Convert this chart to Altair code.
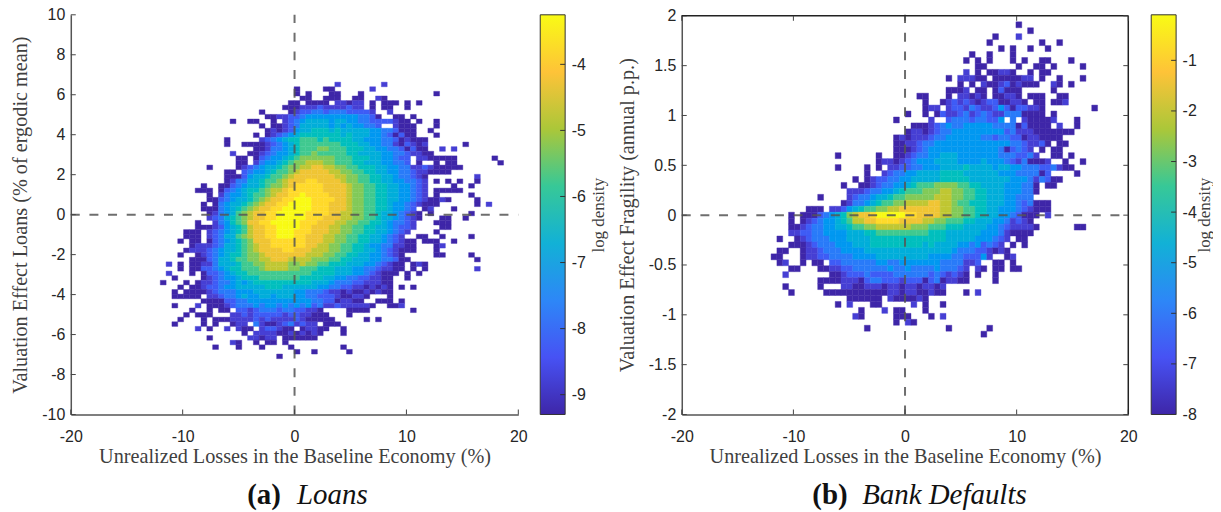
import altair as alt
import pandas as pd

# density grids, one string per row, top to bottom.
# '.' = empty bin; 0-9,a,b,c = colour step from the bottom to the top of the colour bar
LOANS_START = [30,23,23,24,22,21,17,18,12,17,18,16,11,11,16,12,13,13,8,11,11,11,7,6,8,8,7,7,8,8,
               6,6,4,4,3,5,4,3,5,1,3,1,2,0,3,2,2,7,2,5,4,3,2,6,14,8,12,9,23,20]
LOANS_ROWS = [
"1.......1",
"0....00......1",
"0.0...00...0............0",
"00..000..00..10",
"00.0000.11011.0.000.0.0",
"00011121111211.0.00..0",
"0....012233233322221..1",
"0011223444444444332" "0..00.0",
"0..00..0.123" "4555545544332" "2221" "00" ".0..0",
"0.00123" "55555454544332" "..1000...0",
"01012" "455666565555544332000" "..0",
"0.0123" "4566666665655544320200" "...0",
"0.....1234566" "7776766665544433201000",
"0..00" "00123456" "7777777666554433102101" "......0",
"00133456" "7778877766655443320200" "..1.1",
"1..0" "01234456" "77877777665555443321100",
"00.0" "2344567" "8888887776665544322" ".110" "0000" "......0",
"00." "13445678" "8999887776655544332" ".0..0.00.......0",
"0....0" "123455678" "899aa998877666554433112100000",
"00." "234456778" "9aaaaa998877665544332110000",
"000" "245567789" "aaaaaaa9988776655433210" "........1",
"0" "1335567789" "aaabbaaaa988776655443321" ".0.0.0..0",
"0..00" "2345567889" "abbbbbaaaa98877665544321" "....0..0",
"000." "02345667899a" "bbbbbbaaaa98877665544321" ".00000",
"0." "134456778" "9aa" "bbcbbbbaaa98877665544321" ".0.....0",
"00" "234556789aab" "bcccbbbbaa98877665544321" "0010" "....0",
"0.0" "345567" "89aabb" "ccccbbbaaa98877665" "44321" "000" "......0.1",
"000" "345678" "9aabbc" "ccccbbbaaa988776654432" ".01...0",
"01" "345789" "aabbcc" "cccbbbbaa99887765543210" ".0......0",
"12" "356789" "aabbcc" "cccbbbaaa9988776554321" "0...00..0",
"0.." "134678" "aabbccc" "ccbbbaaa99887766543321" "..." "000",
"000" "124567" "9aabbcc" "ccbbaaa998877665543221" "....00",
"000." "123456" "79aabbcc" "cbbbaaa99887766554321" "....0",
"000." "123557" "89aabbcc" "cbbaaa9988776655432" "1" "..00..0....0",
"0.00." "023456" "78aaabbb" "bbbaaa998877665543" "21" "00.000..0",
"01" "1123556" "789aabbb" "bbbaa9988776654433" "1100" "...01",
"01" "1123455" "6789" "aaaab" "baaa9998877665543" "21000" "...0",
"0.." "012345" "66788" "9aaaa" "aaa99988776655443" "210" ".....00....0",
"000" "235567" "78899" "aaa9" "999888776655544332" "00" "..........." "0",
"1.0." "00113" "555677" "889999" "889887766655544321" "00.010",
"0." "002234" "566777" "89999" "8877766655544332" "1100.0.0........1",
"1...0." "022345" "66777" "7777" "7777666655544321" "000.0.0",
"0...." "012344" "56667" "7777" "7766665544332211" "00..0",
"0...0." "011233" "45456" "66666" "66665554333221110" "0",
"0." "001223" "445555" "56665" "55555443322110101" "0.0.0",
"0.000" "01233" "34445" "55555" "54433321101001010" "0",
"00000." "112334" "54455" "4555" "44332221001" "10...0",
"0000" "2233" "44444" "4444" "4433220110" "0..000.0",
"0...1.000" "12333" "4344" "34343" "423112111" "110..001",
"0..0.00." "22123" "33233" "22110" "....0000.......0",
"0.000..." "11212" "22221" "221100" "0...0",
"0...0.000" "11112" "12111" "12100000" ".....0.0",
"0....0.0." ".011.3" "10012" "312" "11.000",
"1.0..1.100." "122100" ".01100..0",
"0." "111100" "1" "01010" "...0",
"0......1101" "1.000000",
"10..0.00.0",
"0...0...0....0........0",
"0..0.....0",
"0",
]

FRAG_START = [42,44,38,37,39,34,33,35,33,30,32,30,25,26,26,23,21,24,23,21,21,21,11,18,11,16,14,12,13,8,
              12,6,3,3,3,3,1,3,1,0,1,3,2,8,2,3,13,11,15,14,21,16,36]
FRAG_ROWS = [
"0",
"0",
"0...1",
"0........0..0",
"0.0..0..0",
"0..0...0",
"0.0.0...0.0..00...0",
"00.....0..00.0....0",
"1.0.00110..0.00",
"0.11100.0000011.0..0...0",
"0.0.1" "00120" "1000" ".." "10" "." "0",
"0001.00." "0200" "0" "....." "0",
"00...0.11010." "00110" "." "000" ".." "00",
"0..0" "12121012200110" ".00." "001",
"011." "12213211242022110" "........0",
"0..0.0211231232113330000.0",
"0.....1.." "2333233224" ".3.1" "0000" "1...0",
"000123433" "444443333" "0200" "00.1..0",
"011012334" "44444444" "2311100000" "00",
"010111233" "4444443323" "3220" "110000",
"0011233444" "4444444444" "33211" "20.00",
"000123444" "4444444443" "0232" "1.0.00",
"0......0.." "001233445" "5544444443" "3322" "31..00.0",
"011012344" "4555544" "445444321" "30001..0..0",
"0....0.0.1" "12233444" "555565555" "4554433" "32231" "00",
"0..1233445" "5556666" "555555" "4443333" "02....0",
"0.0" "12233445" "55556666" "65555555" "44431320" "0",
"0..00" "12334456777888877665555444330" ".00",
"111233445677788899887766555444330",
"0...." "12334556778888899988776655544333",
"0" "1334567788" "9999aa998776" "6655544323000",
"000." "112456778899aaaaaaa99887766554443" "21000",
"0.0" "00" "23" "45689aab" "ccccc" "bbaaaa99887766554432000" ".1",
"0.0" "12344567" "99aabbbb" "aaaa9988777665554" "4312" "10",
"001" "23344556" "77889999" "99888777666555544321111" "0" "......00",
"1122" "334444555667777" "7777766655555544431000" "0",
"0..0" "12333444" "555566666666" "6666655" "55544432" "1.00",
"00" "0123334445556666" "6666656555" "5443423" "21.0.0",
"00.." "011233344" "44555555" "555555555" "4333221" "010",
"00..." "0112233" "33444455" "55555554" "44433222" "41..01",
"01..0.00." "22333" "33344" "3344444" "4433331" "12..00.0",
"00...00" "11223" "33333" "4334" "33334333" "21.10.00.00",
"1......." "00122" "23222" "233333" "3" "2321210.0..0",
"0000" "11102" "33222" "1222" "02301100" "....0",
"0.....0..." "1100111" "011011" "0110" "1",
"0....." "000000000" "001101100" "100...0.1",
"000000.1000010",
"0.1...00.....1.0..0",
"0...1.00...0",
"10.....000...0.1",
"0.10",
"0.............0......0",
"0",
]

LOANS_RANGE = [-9.3, -3.25]
FRAG_RANGE = [-8.0, -0.1]
LOANS_TICKS = [-9, -8, -7, -6, -5, -4]
FRAG_TICKS = [-8, -7, -6, -5, -4, -3, -2, -1]
PARULA = ["#3e26a8", "#4752f4", "#2d87f7", "#12b1d6", "#37c897", "#abc739", "#fec338", "#f9fb15"]
X_TICKS = [-20, -10, 0, 10, 20]
Y_TICKS_A = [-10, -8, -6, -4, -2, 0, 2, 4, 6, 8, 10]
Y_TICKS_B = [-2, -1.5, -1, -0.5, 0, 0.5, 1, 1.5, 2]

SANS = "Liberation Sans"
SERIF = "Liberation Serif"
INK = "#262626"
STEPS = "0123456789abc"


def cells(starts, rows, x0, dx, ytop, dy, rng):
    out = []
    for r, (st, s) in enumerate(zip(starts, rows)):
        for i, ch in enumerate(s):
            if ch in STEPS:
                c = st + i
                out.append(dict(x0=x0 + dx * c, x1=x0 + dx * (c + 1),
                                y1=ytop - dy * r, y0=ytop - dy * (r + 1),
                                v=rng[0] + (rng[1] - rng[0]) * STEPS.index(ch) / 12))
    return pd.DataFrame(out)


def one():
    return pd.DataFrame({"a": [0]})


def panel(df, rng, ydom, yticks, ylabel, tpad, cap1, cap2, cap1x, cap2x, frame, W, H):
    xs = alt.Scale(domain=[-20, 20], nice=False)
    ys = alt.Scale(domain=ydom, nice=False)
    cs = alt.Scale(domain=[rng[0] + (rng[1] - rng[0]) * i / 7 for i in range(8)], range=PARULA)
    heat = alt.Chart(df).mark_rect(strokeWidth=0.4).encode(
        x=alt.X("x0:Q", scale=xs, axis=alt.Axis(
            values=X_TICKS, format="d", grid=False, tickSize=0, domain=True, domainColor="#555555", domainWidth=1.5,
            labelFont=SANS, labelFontSize=16, labelColor=INK, labelPadding=14, labelFlush=False,
            labelExpr="replace(format(datum.value, 'd'), '−', '-')",
            title="Unrealized Losses in the Baseline Economy (%)", titleFont=SERIF, titleFontSize=20.3,
            titleFontWeight="normal", titleColor="#404040", titlePadding=2)),
        x2="x1:Q",
        y=alt.Y("y0:Q", scale=ys, axis=alt.Axis(
            values=yticks, grid=False, tickSize=0, domain=True, domainColor="#555555", domainWidth=1.5,
            labelFont=SANS, labelFontSize=16, labelColor=INK, labelPadding=6,
            labelExpr="replace(format(datum.value, '~g'), '−', '-')",
            title=ylabel, titleFont=SERIF, titleFontSize=20.3, titleFontWeight="normal",
            titleColor="#404040", titlePadding=tpad)),
        y2="y1:Q",
        color=alt.Color("v:Q", scale=cs, legend=None),
        stroke=alt.Color("v:Q", scale=cs, legend=None),
    )
    mid = pd.DataFrame({"x": [0], "y": [0]})
    dash = dict(strokeDash=[9, 9.7], strokeWidth=2, color="#555555", opacity=0.85)
    vline = alt.Chart(mid).mark_rule(**dash).encode(x=alt.X("x:Q", scale=xs, axis=None), y=alt.value(H - 0), y2=alt.value(0))
    hline = alt.Chart(mid).mark_rule(**dash).encode(y=alt.Y("y:Q", scale=ys, axis=None), x=alt.value(0), x2=alt.value(W))
    tk = dict(color="#444444", strokeWidth=1)
    xt = pd.DataFrame({"t": X_TICKS})
    yt = pd.DataFrame({"t": yticks})
    layers = [heat, vline, hline,
              alt.Chart(xt).mark_rule(**tk).encode(x=alt.X("t:Q", scale=xs, axis=None), y=alt.value(H), y2=alt.value(H - 5)),
              alt.Chart(yt).mark_rule(**tk).encode(y=alt.Y("t:Q", scale=ys, axis=None), x=alt.value(0), x2=alt.value(5))]
    if frame:
        top = H - 400
        f = dict(color="#222222", strokeWidth=1.5)
        layers += [
            alt.Chart(mid).mark_rule(**f).encode(y=alt.value(top), x=alt.value(0), x2=alt.value(W)),
            alt.Chart(mid).mark_rule(**f).encode(x=alt.value(W), y=alt.value(top), y2=alt.value(H)),
            alt.Chart(xt).mark_rule(**tk).encode(x=alt.X("t:Q", scale=xs, axis=None), y=alt.value(top), y2=alt.value(top + 5)),
            alt.Chart(yt).mark_rule(**tk).encode(y=alt.Y("t:Q", scale=ys, axis=None), x=alt.value(W - 5), x2=alt.value(W)),
        ]
    layers += [
        alt.Chart(pd.DataFrame({"t": [cap1]})).mark_text(font=SERIF, fontSize=29, fontWeight="bold", align="left", baseline="alphabetic", color="#111111")
        .encode(text="t:N", x=alt.value(cap1x), y=alt.value(491)),
        alt.Chart(pd.DataFrame({"t": [cap2]})).mark_text(font=SERIF, fontSize=29, fontStyle="italic", align="left", baseline="alphabetic", color="#111111")
        .encode(text="t:N", x=alt.value(cap2x), y=alt.value(491)),
    ]
    return alt.layer(*layers).resolve_axis(x="independent", y="independent").properties(width=W, height=H)


def colorbar(rng, ticks, H, tpad):
    ys = alt.Scale(domain=rng, nice=False)
    grad = alt.Gradient(gradient="linear", x1=0, x2=0, y1=1, y2=0,
                        stops=[alt.GradientStop(color=c, offset=i / 7) for i, c in enumerate(PARULA)])
    bar = alt.Chart(pd.DataFrame({"lo": [rng[0]], "hi": [rng[1]]})).mark_rect(
        fill=grad, stroke="#333333", strokeWidth=1).encode(
        y=alt.Y("lo:Q", scale=ys, axis=alt.Axis(
            orient="right", values=ticks, grid=False, tickSize=0, domain=False, labelFont=SANS, labelFontSize=16,
            labelColor=INK, labelPadding=6, labelExpr="replace(format(datum.value, 'd'), '−', '-')",
            title="log density", titleFont=SERIF, titleFontSize=17, titleFontWeight="normal",
            titleColor="#404040", titleAngle=270, titlePadding=tpad)),
        y2="hi:Q", x=alt.value(0), x2=alt.value(25))
    tk = alt.Chart(pd.DataFrame({"t": ticks})).mark_rule(color="#333333", strokeWidth=1).encode(
        y=alt.Y("t:Q", scale=ys, axis=None), x=alt.value(20), x2=alt.value(25))
    return alt.layer(bar, tk).resolve_axis(y="independent").properties(width=25, height=H)


def spacer(w, H):
    return alt.Chart(one()).mark_point(opacity=0).encode(x=alt.value(0), y=alt.value(0)).properties(width=w, height=H)


H = 401
dfa = cells(LOANS_START, LOANS_ROWS, -12.0, 0.52, 6.63, 0.2306, LOANS_RANGE)
dfb = cells(FRAG_START, FRAG_ROWS, -12.0, 0.5223, 1.94, 0.0597, FRAG_RANGE)
pa = panel(dfa, LOANS_RANGE, [-10, 10], Y_TICKS_A, "Valuation Effect Loans (% of ergodic mean)", 11,
           "(a)", "Loans", 177, 227, False, 449, H)
pb = panel(dfb, FRAG_RANGE, [-2, 2.01], Y_TICKS_B, "Valuation Effect Fragility (annual p.p.)", 11,
           "(b)", "Bank Defaults", 131, 181, True, 448, H)

chart = alt.hconcat(pa, spacer(22, H), colorbar(LOANS_RANGE, LOANS_TICKS, H, 22), spacer(117, H), pb, spacer(23, H),
                    colorbar(FRAG_RANGE, FRAG_TICKS, H, 17), spacing=0, bounds="flush").resolve_scale(
    color="independent", stroke="independent").properties(
    padding={"left": 2, "top": -2, "right": 0, "bottom": 0}).configure_view(stroke=None)
chart.save("out.html", embed_options={"renderer": "svg", "actions": False})
